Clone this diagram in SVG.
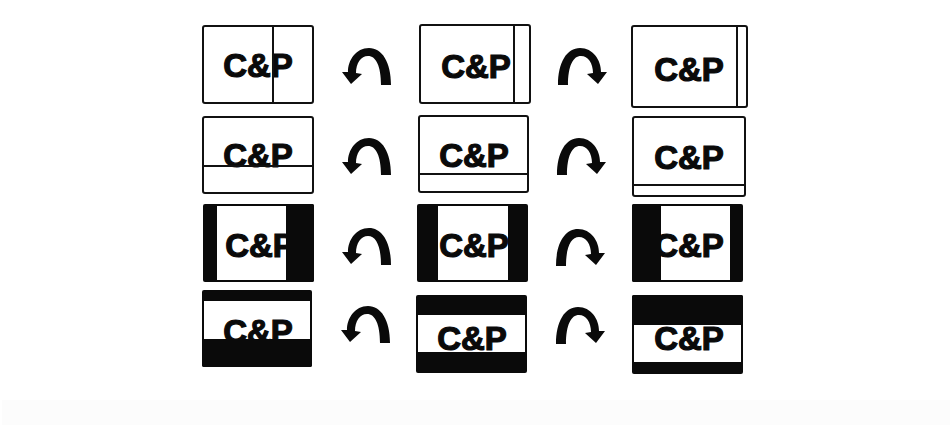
<svg xmlns="http://www.w3.org/2000/svg" width="952" height="427" viewBox="0 0 952 427">
<style>
.frame{fill:#fff;stroke:#111;stroke-width:2}
.div{stroke:#111;stroke-width:2}
.blk{fill:#0a0a0a}
.wht{fill:#fff}
.t{font-family:"Liberation Sans",Arial,sans-serif;font-weight:bold;font-size:33px;fill:#0a0a0a;stroke:#0a0a0a;stroke-width:1.2;text-anchor:middle}
</style>
<defs>
<path id="arr" d="M49 37 C49 14 40 0 27 0 C14 0 6 12 6 24 L0 24 L9 36 L20 26 L14 25 C14 15 19 8 26 8 C34 8 39 18 39 37 Z" fill="#0a0a0a"/>
</defs>
<rect x="2" y="400" width="948" height="25" fill="#fcfcfc"/>
<g id="r1c1"><rect class="frame" x="203" y="26" width="110" height="77" rx="2"/><text class="t" x="258" y="77">C&amp;P</text><line class="div" x1="273" y1="26" x2="273" y2="103"/></g>
<g id="r1c2"><rect class="frame" x="420" y="25" width="110" height="78" rx="2"/><text class="t" x="476" y="78">C&amp;P</text><line class="div" x1="514" y1="25" x2="514" y2="103"/></g>
<g id="r1c3"><rect class="frame" x="632" y="26" width="115" height="81" rx="2"/><text class="t" x="689" y="81">C&amp;P</text><line class="div" x1="737" y1="26" x2="737" y2="107"/></g>
<g id="r2c1"><rect class="frame" x="203" y="117" width="110" height="76" rx="2"/><text class="t" x="258" y="167">C&amp;P</text><line class="div" x1="203" y1="166" x2="313" y2="166"/></g>
<g id="r2c2"><rect class="frame" x="419" y="116" width="109" height="76" rx="2"/><text class="t" x="474" y="167">C&amp;P</text><line class="div" x1="419" y1="174" x2="528" y2="174"/></g>
<g id="r2c3"><rect class="frame" x="633" y="117" width="112" height="79" rx="2"/><text class="t" x="689" y="169">C&amp;P</text><line class="div" x1="633" y1="185" x2="745" y2="185"/></g>
<g id="r3c1"><rect class="blk" x="203" y="204" width="111" height="78" rx="2"/><rect class="wht" x="217" y="206" width="69" height="74"/><text class="t" x="260" y="257">C&amp;P</text><rect class="blk" x="286" y="204" width="28" height="78" rx="2"/></g>
<g id="r3c2"><rect class="blk" x="417" y="204" width="111" height="78" rx="2"/><rect class="wht" x="438" y="206" width="70" height="74"/><text class="t" x="474" y="257">C&amp;P</text></g>
<g id="r3c3"><rect class="blk" x="632" y="204" width="111" height="78" rx="2"/><rect class="wht" x="661" y="206" width="69" height="74"/><text class="t" x="689" y="257">C&amp;P</text><rect class="blk" x="632" y="204" width="29" height="78" rx="2"/></g>
<g id="r4c1"><rect class="blk" x="202" y="290" width="110" height="77" rx="2"/><rect class="wht" x="204" y="301" width="106" height="38"/><text class="t" x="258" y="343">C&amp;P</text><rect class="blk" x="202" y="339" width="110" height="28" rx="2"/></g>
<g id="r4c2"><rect class="blk" x="416" y="295" width="111" height="78" rx="2"/><rect class="wht" x="418" y="315" width="107" height="37"/><text class="t" x="472" y="350">C&amp;P</text></g>
<g id="r4c3"><rect class="blk" x="632" y="295" width="111" height="79" rx="2"/><rect class="wht" x="634" y="325" width="107" height="37"/><text class="t" x="689" y="350">C&amp;P</text><rect class="blk" x="632" y="295" width="111" height="30" rx="2"/></g>
<g id="connectors">
<use href="#arr" transform="translate(342,48)"/>
<use href="#arr" transform="translate(607,48) scale(-1,1)"/>
<use href="#arr" transform="translate(342,138)"/>
<use href="#arr" transform="translate(606,138) scale(-1,1)"/>
<use href="#arr" transform="translate(342,228)"/>
<use href="#arr" transform="translate(605,229) scale(-1,1)"/>
<use href="#arr" transform="translate(341,306)"/>
<use href="#arr" transform="translate(605,307) scale(-1,1)"/>
</g>
</svg>
